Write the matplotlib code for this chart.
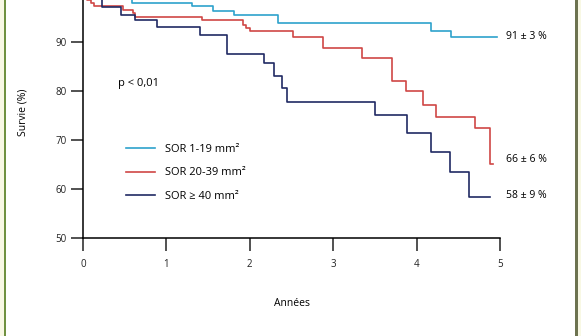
import numpy as np
import matplotlib
matplotlib.use('Agg')
import matplotlib.pyplot as plt
from matplotlib.patches import Rectangle

plt.rcParams['font.family'] = ['Open Sans', 'DejaVu Sans']

# Kaplan-Meier step data (time in years, survival in %)
t_small = [0, 0.59, 1.31, 1.56, 1.81, 2.34, 4.17, 4.41, 4.96]
s_small = [100, 98.0, 97.4, 96.3, 95.5, 93.8, 92.2, 91.0, 91.0]

t_mid = [0, 0.05, 0.09, 0.13, 0.48, 0.60, 0.62, 1.43, 1.92, 1.96, 2.0,
         2.52, 2.88, 3.35, 3.70, 3.87, 4.08, 4.23, 4.70, 4.88, 4.92]
s_mid = [100, 98.6, 98.0, 97.35, 96.5, 95.9, 95.2, 94.4, 93.4, 92.8, 92.3,
         91.0, 88.8, 86.7, 82.1, 79.9, 77.1, 74.6, 72.4, 65.0, 65.0]

t_large = [0, 0.23, 0.45, 0.62, 0.89, 1.40, 1.73, 2.17, 2.29, 2.39, 2.45,
           3.50, 3.88, 4.17, 4.40, 4.63, 4.88]
s_large = [100, 97.2, 95.5, 94.4, 93.0, 91.4, 87.6, 85.7, 83.1, 80.7, 77.8,
           75.1, 71.4, 67.6, 63.5, 58.3, 58.3]

labels = ['SOR 1-19 mm²', 'SOR 20-39 mm²', 'SOR ≥ 40 mm²']
end_labels = ['91 ± 3 %', '66 ± 6 %', '58 ± 9 %']
colors = ['#2ea2cc', '#cf4745', '#202a63']

fig = plt.figure(figsize=(5.81, 3.36), dpi=100)
fig.patch.set_facecolor('white')

# page border strips
fig.patches.append(Rectangle((0, 0), 3.5 / 581, 1, transform=fig.transFigure,
                             facecolor='#f8f8e4', edgecolor='none', zorder=0))
fig.patches.append(Rectangle((3.5 / 581, 0), 2 / 581, 1, transform=fig.transFigure,
                             facecolor='#6f9140', edgecolor='none', zorder=0))
fig.patches.append(Rectangle((575 / 581, 0), 2.5 / 581, 1, transform=fig.transFigure,
                             facecolor='#6d7350', edgecolor='none', zorder=0))
fig.patches.append(Rectangle((577.5 / 581, 0), 3.5 / 581, 1, transform=fig.transFigure,
                             facecolor='#f8f8e4', edgecolor='none', zorder=0))

ax = fig.add_axes([83 / 581, 1 - 238 / 336, (500 - 83) / 581, 238 / 336])
ax.patch.set_alpha(0)

series = [(t_small, s_small), (t_mid, s_mid), (t_large, s_large)]
for (t, s), c, lab in zip(series, colors, labels):
    ax.step(t, s, where='post', color=c, lw=1.2, label=lab)

ax.set_xlim(0, 5)
ax.set_ylim(50, 98.57)
ax.set_xticks([0, 1, 2, 3, 4, 5])
ax.set_yticks([50, 60, 70, 80, 90])
ax.spines['top'].set_visible(False)
ax.spines['right'].set_visible(False)
ax.spines['left'].set_linewidth(1.1)
ax.spines['bottom'].set_linewidth(1.1)
ax.tick_params(axis='x', direction='out', length=9, width=1.1, pad=6,
               labelsize=7, colors='#222222')
ax.tick_params(axis='y', direction='out', length=9, width=1.1, pad=3,
               labelsize=7, colors='#222222')

ax.set_xlabel('Années', fontsize=7.5, labelpad=20)
ax.set_ylabel('Survie (%)', fontsize=7.5, labelpad=14)
ax.yaxis.set_label_coords(-0.13, 0.53)

ax.text(0.42, 81.5, 'p < 0,01', fontsize=8, va='center', ha='left')

leg = ax.legend(loc='upper left', bbox_to_anchor=(0.093, 0.415), frameon=False,
                fontsize=8, handlelength=2.6, handletextpad=0.9,
                labelspacing=1.15, borderaxespad=0)

end_y = [91.2, 66.0, 58.6]
for y, txt in zip(end_y, end_labels):
    ax.text(5.07, y, txt, fontsize=7.5, va='center', ha='left', clip_on=False)

fig.savefig('out.png', dpi=100)
